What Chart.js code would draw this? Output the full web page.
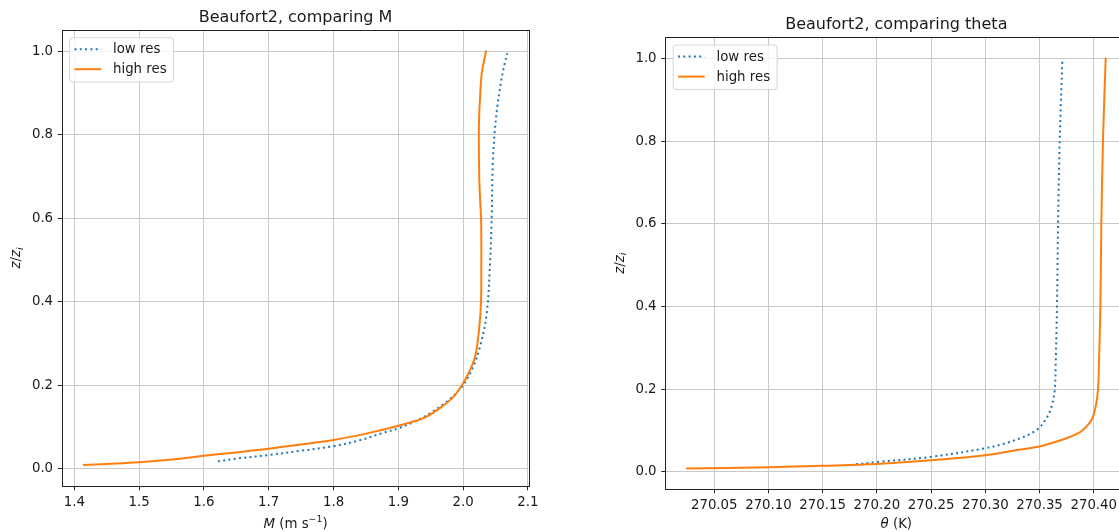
<!DOCTYPE html>
<html><head><meta charset="utf-8">
<script src="https://cdn.jsdelivr.net/npm/chart.js@4.4.1/dist/chart.umd.min.js"></script>
<style>
html,body{margin:0;padding:0;overflow:hidden;background:#fff;width:1119px;height:532px;}
.wrap{position:absolute;top:0;height:532px;}
</style></head><body>
<div class="wrap" style="left:0;width:560px"><canvas id="c1" width="560" height="532"></canvas></div>
<div class="wrap" style="left:560px;width:600px"><canvas id="c2" width="600" height="532"></canvas></div>
<script>
// ---------- data ----------
const seriesLabels = ['low res', 'high res'];
const seriesColors = ['#1f77b4', '#ff7f0e'];

// Left panel: M (m s^-1) vs z/z_i
const mLowM  = [1.6216, 1.65, 1.70, 1.75, 1.80, 1.842, 1.874, 1.90, 1.925, 1.949, 1.9747, 1.998, 2.0133, 2.026, 2.0364, 2.0415, 2.044, 2.0457, 2.049, 2.0528, 2.058, 2.063, 2.068];
const mLowZ  = [0.0175, 0.024, 0.0328, 0.043, 0.054, 0.0687, 0.0847, 0.0967, 0.113, 0.1327, 0.1605, 0.196, 0.236, 0.292, 0.372, 0.492, 0.60, 0.731, 0.811, 0.867, 0.923, 0.963, 0.995];
const mHighM = [1.4145, 1.45, 1.50, 1.55, 1.60, 1.65, 1.70, 1.75, 1.80, 1.85, 1.90, 1.9386, 1.964, 1.985, 1.998, 2.008, 2.0184, 2.0245, 2.0276, 2.028, 2.028, 2.0276, 2.026, 2.0248, 2.0242, 2.0248, 2.0262, 2.0287, 2.0353];
const mHighZ = [0.009, 0.0115, 0.0155, 0.022, 0.031, 0.039, 0.048, 0.058, 0.0687, 0.084, 0.103, 0.121, 0.145, 0.172, 0.200, 0.228, 0.268, 0.332, 0.40, 0.49, 0.55, 0.60, 0.65, 0.70, 0.80, 0.85, 0.891, 0.947, 1.0];

// Right panel: theta (K) vs z/z_i
const thLowT  = [270.1807, 270.20, 270.25, 270.30, 270.32, 270.333, 270.343, 270.35, 270.3563, 270.361, 270.364, 270.3649, 270.3661, 270.3671, 270.3686, 270.3711];
const thLowZ  = [0.018, 0.0235, 0.036, 0.057, 0.070, 0.082, 0.094, 0.107, 0.129, 0.157, 0.198, 0.262, 0.40, 0.60, 0.80, 1.0];
const thHighT = [270.0248, 270.10, 270.15, 270.20, 270.25, 270.30, 270.3256, 270.35, 270.3645, 270.3748, 270.384, 270.390, 270.3979, 270.4017, 270.4039, 270.4048, 270.4061, 270.407, 270.4085, 270.411];
const thHighZ = [0.008, 0.011, 0.0145, 0.019, 0.0276, 0.040, 0.051, 0.061, 0.072, 0.081, 0.091, 0.101, 0.125, 0.157, 0.198, 0.262, 0.40, 0.60, 0.80, 1.0];

// tick labels
const zTickLabels  = ['0.0', '0.2', '0.4', '0.6', '0.8', '1.0'];
const mTickLabels  = ['1.4', '1.5', '1.6', '1.7', '1.8', '1.9', '2.0', '2.1'];
const thTickLabels = ['270.05', '270.10', '270.15', '270.20', '270.25', '270.30', '270.35', '270.40'];

// ---------- helpers ----------
const FS = 13.33;
const FONT = '"DejaVu Sans", sans-serif';
const TEXT = '#1a1a1a';

function pts(xs, ys) { return xs.map((x, i) => ({x: x, y: ys[i]})); }

function drawRich(ctx, pieces, cx, by, fs) {
  let total = 0;
  const m = pieces.map(p => {
    const size = fs * (p.scale || 1);
    const font = (p.italic ? 'italic ' : '') + size + 'px ' + FONT;
    ctx.font = font;
    const w = ctx.measureText(p.text).width;
    total += w;
    return {font, w, dy: (p.dy || 0) * fs, text: p.text};
  });
  let x = cx - total / 2;
  ctx.textAlign = 'left';
  ctx.textBaseline = 'alphabetic';
  for (const q of m) { ctx.font = q.font; ctx.fillText(q.text, x, by + q.dy); x += q.w; }
}

function makeDecor(spec) {
  return {
    id: 'decor',
    afterDraw(chart) {
      const ctx = chart.ctx, a = chart.chartArea;
      ctx.save();
      // spines
      ctx.strokeStyle = '#222';
      ctx.lineWidth = 1;
      const L = Math.round(a.left) - 0.5, T = Math.round(a.top) - 0.5;
      const R = Math.round(a.right) + 0.5, B = Math.round(a.bottom) + 0.5;
      ctx.strokeRect(L, T, R - L, B - T);
      // title
      ctx.fillStyle = TEXT;
      ctx.font = '16px ' + FONT;
      ctx.textAlign = 'center';
      ctx.textBaseline = 'alphabetic';
      ctx.fillText(spec.title, (a.left + a.right) / 2, a.top - 8.8);
      // x label
      drawRich(ctx, spec.xLabel, (a.left + a.right) / 2, 527.7, FS);
      // y label
      ctx.save();
      ctx.translate(a.left - 42.5, (a.top + a.bottom) / 2);
      ctx.rotate(-Math.PI / 2);
      drawRich(ctx, spec.yLabel, 0, 0, FS);
      ctx.restore();
      // legend
      const ds = chart.data.datasets;
      ctx.font = FS + 'px ' + FONT;
      const tw = Math.max(...ds.map(d => ctx.measureText(d.label).width));
      const bx = a.left + 6.7, by = a.top + 6.7;
      const padL = 5.3, hl = 26.7, gap = 11.8, padR = 6.5;
      const bw = padL + hl + gap + tw + padR, bh = 44.4;
      ctx.beginPath();
      if (ctx.roundRect) ctx.roundRect(bx + 0.5, by + 0.5, bw, bh, 2.7); else ctx.rect(bx + 0.5, by + 0.5, bw, bh);
      ctx.fillStyle = 'rgba(255,255,255,0.8)';
      ctx.fill();
      ctx.strokeStyle = 'rgba(204,204,204,0.8)';
      ctx.lineWidth = 1;
      ctx.stroke();
      ds.forEach((d, i) => {
        const cy = by + 12 + i * 20;
        ctx.save();
        ctx.strokeStyle = d.borderColor;
        ctx.lineWidth = d.borderWidth;
        ctx.lineCap = 'butt';
        ctx.setLineDash(d.borderDash || []);
        ctx.beginPath();
        ctx.moveTo(bx + padL, cy);
        ctx.lineTo(bx + padL + hl, cy);
        ctx.stroke();
        ctx.restore();
        ctx.fillStyle = TEXT;
        ctx.font = FS + 'px ' + FONT;
        ctx.textAlign = 'left';
        ctx.textBaseline = 'middle';
        ctx.fillText(d.label, bx + padL + hl + gap, cy + 0.5);
      });
      ctx.restore();
    }
  };
}

function makeScale(min, max, labels, fitKey, fitVal) {
  return {
    type: 'linear',
    min: min, max: max,
    afterBuildTicks: s => { s.ticks = labels.map(l => ({value: parseFloat(l)})); },
    afterFit: s => { s[fitKey] = fitVal; },
    ticks: {
      autoSkip: false, maxRotation: 0, minRotation: 0, includeBounds: false,
      padding: 4.7,
      color: TEXT,
      font: {family: FONT, size: FS},
      callback: (v, i) => labels[i]
    },
    grid: {
      color: '#c9c9c9', lineWidth: 1,
      tickColor: '#222', tickLength: 4.7, tickWidth: 1,
      drawOnChartArea: true, drawTicks: true
    },
    border: {display: false}
  };
}

function makeChart(id, low, high, xMin, xMax, xLabels, yAxisW, xAxisH, padTop, padRight, spec) {
  return new Chart(document.getElementById(id), {
    type: 'line',
    data: {
      datasets: [
        {label: seriesLabels[0], data: low, borderColor: seriesColors[0], borderWidth: 2,
         borderDash: [2, 3.3], borderCapStyle: 'butt', order: 2},
        {label: seriesLabels[1], data: high, borderColor: seriesColors[1], borderWidth: 2,
         borderCapStyle: 'round', order: 1}
      ]
    },
    options: {
      responsive: false,
      animation: false,
      devicePixelRatio: 1,
      layout: {padding: {left: 0, top: padTop, right: padRight, bottom: 0}},
      elements: {
        point: {radius: 0, hoverRadius: 0},
        line: {tension: 0.35, cubicInterpolationMode: 'default', fill: false, capBezierPoints: true}
      },
      plugins: {legend: {display: false}, tooltip: {enabled: false}, title: {display: false}},
      events: [],
      scales: {
        x: makeScale(xMin, xMax, xLabels, 'height', xAxisH),
        y: makeScale(-0.0405, 1.0496, zTickLabels, 'width', yAxisW)
      }
    },
    plugins: [makeDecor(spec)]
  });
}

makeChart('c1', pts(mLowM, mLowZ), pts(mHighM, mHighZ), 1.3818, 2.1010, mTickLabels,
  62.5, 46.4, 30.5, 31.4, {
    title: 'Beaufort2, comparing M',
    xLabel: [{text: 'M', italic: true}, {text: ' (m s'}, {text: '\u22121', scale: 0.7, dy: -0.42}, {text: ')'}],
    yLabel: [{text: 'z', italic: true}, {text: '/'}, {text: 'z', italic: true}, {text: 'i', italic: true, scale: 0.7, dy: 0.22}]
  });

makeChart('c2', pts(thLowT, thLowZ), pts(thHighT, thHighZ), 270.0055, 270.4303, thTickLabels,
  106, 43.5, 37.9, 33.4, {
    title: 'Beaufort2, comparing theta',
    xLabel: [{text: '\u03b8', italic: true}, {text: ' (K)'}],
    yLabel: [{text: 'z', italic: true}, {text: '/'}, {text: 'z', italic: true}, {text: 'i', italic: true, scale: 0.7, dy: 0.22}]
  });
</script>
</body></html>
